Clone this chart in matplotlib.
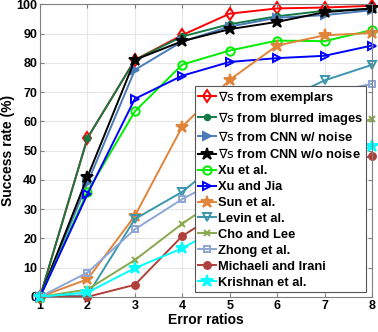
import matplotlib
matplotlib.use('Agg')
import matplotlib.pyplot as plt

plt.rcParams['font.family'] = ['Liberation Sans', 'DejaVu Sans']
plt.rcParams['mathtext.fontset'] = 'dejavusans'

# error ratios on the x axis
ratios = [1, 2, 3, 4, 5, 6, 7, 8]

# success rates (%) for each method
exemplars = [0, 54.3, 81.0, 89.5, 96.8, 98.6, 98.9, 99.5]
blurred   = [0, 54.3, 81.0, 89.0, 93.2, 95.9, 97.8, 98.4]
cnn_noise = [0, 38.9, 77.6, 87.3, 92.4, 95.4, 96.3, 98.0]
cnn_clean = [0, 41.0, 81.0, 87.4, 91.5, 94.0, 97.3, 98.6]
xu        = [0, 36.0, 63.4, 79.4, 84.2, 87.6, 87.4, 91.2]
xu_jia    = [0, 35.1, 67.7, 75.6, 80.3, 81.6, 82.4, 85.9]
sun       = [0, 6.0, 27.7, 58.2, 74.2, 85.9, 89.4, 90.2]
levin     = [0, 0.5, 26.6, 35.9, 49.0, 66.2, 74.0, 79.3]
cho_lee   = [0, 2.5, 12.6, 25.0, 36.0, 47.0, 55.0, 60.9]
zhong     = [0, 8.3, 23.1, 33.4, 42.0, 58.0, 69.5, 72.8]
michaeli  = [0, 0.0, 4.1, 20.8, 31.0, 39.0, 44.0, 48.2]
krishnan  = [0, 1.5, 9.8, 16.6, 25.5, 35.0, 44.0, 51.6]

labels = [r'$\nabla\mathrm{s}$ from exemplars',
          r'$\nabla\mathrm{s}$ from blurred images',
          r'$\nabla\mathrm{s}$ from CNN w/ noise',
          r'$\nabla\mathrm{s}$ from CNN w/o noise',
          'Xu et al.', 'Xu and Jia', 'Sun et al.', 'Levin et al.',
          'Cho and Lee', 'Zhong et al.', 'Michaeli and Irani', 'Krishnan et al.']
series = [exemplars, blurred, cnn_noise, cnn_clean, xu, xu_jia, sun, levin,
          cho_lee, zhong, michaeli, krishnan]

# (color, marker, filled, size)
styles = [('#ff0000', 'd', False, 6),
          ('#137a45', 'o', True, 4),
          ('#4a7ab8', '>', True, 6),
          ('#000000', '*', True, 9),
          ('#00ee00', 'o', False, 6),
          ('#0000ff', '>', False, 6),
          ('#e0843a', '*', True, 9),
          ('#3a96ad', 'v', False, 6),
          ('#88a84c', 'x', False, 4),
          ('#8ea6d6', 's', False, 5),
          ('#b0403c', 'o', True, 5),
          ('#00ffff', '*', True, 9)]

fig = plt.figure(figsize=(3.78, 3.32), dpi=100)
ax = fig.add_axes([0.106, 0.106, 0.878, 0.881])

for y, lab, (c, m, filled, ms) in zip(series, labels, styles):
    ax.plot(ratios, y, color=c, marker=m, ms=ms, lw=1.4, mew=1.4,
            mfc=c if filled else 'none', mec=c, label=lab, clip_on=False)

ax.set_xlim(1, 8)
ax.set_ylim(0, 100)
ax.set_xticks(ratios)
ax.set_yticks(range(0, 101, 10))
ax.grid(True, color='#e6e6e6', lw=0.8)
ax.set_axisbelow(True)
for s in ax.spines.values():
    s.set_color('#808080')
    s.set_linewidth(0.8)
ax.tick_params(direction='in', length=3, color='#808080', top=True, right=True,
               labelsize=9, pad=2)
for t in ax.get_xticklabels() + ax.get_yticklabels():
    t.set_fontweight('bold')
ax.set_xlabel('Error ratios', fontsize=10, fontweight='bold', labelpad=1)
ax.set_ylabel('Success rate (%)', fontsize=10, fontweight='bold', labelpad=1)

leg = ax.legend(loc='lower right', bbox_to_anchor=(0.982, 0.017),
                prop={'weight': 'bold', 'size': 9.3}, fancybox=False,
                framealpha=1, edgecolor='#555555', handlelength=1.4,
                handletextpad=0.15, labelspacing=0.3, borderpad=0.25,
                borderaxespad=0)
leg.get_frame().set_linewidth(0.8)

fig.savefig('out.png', dpi=100)
